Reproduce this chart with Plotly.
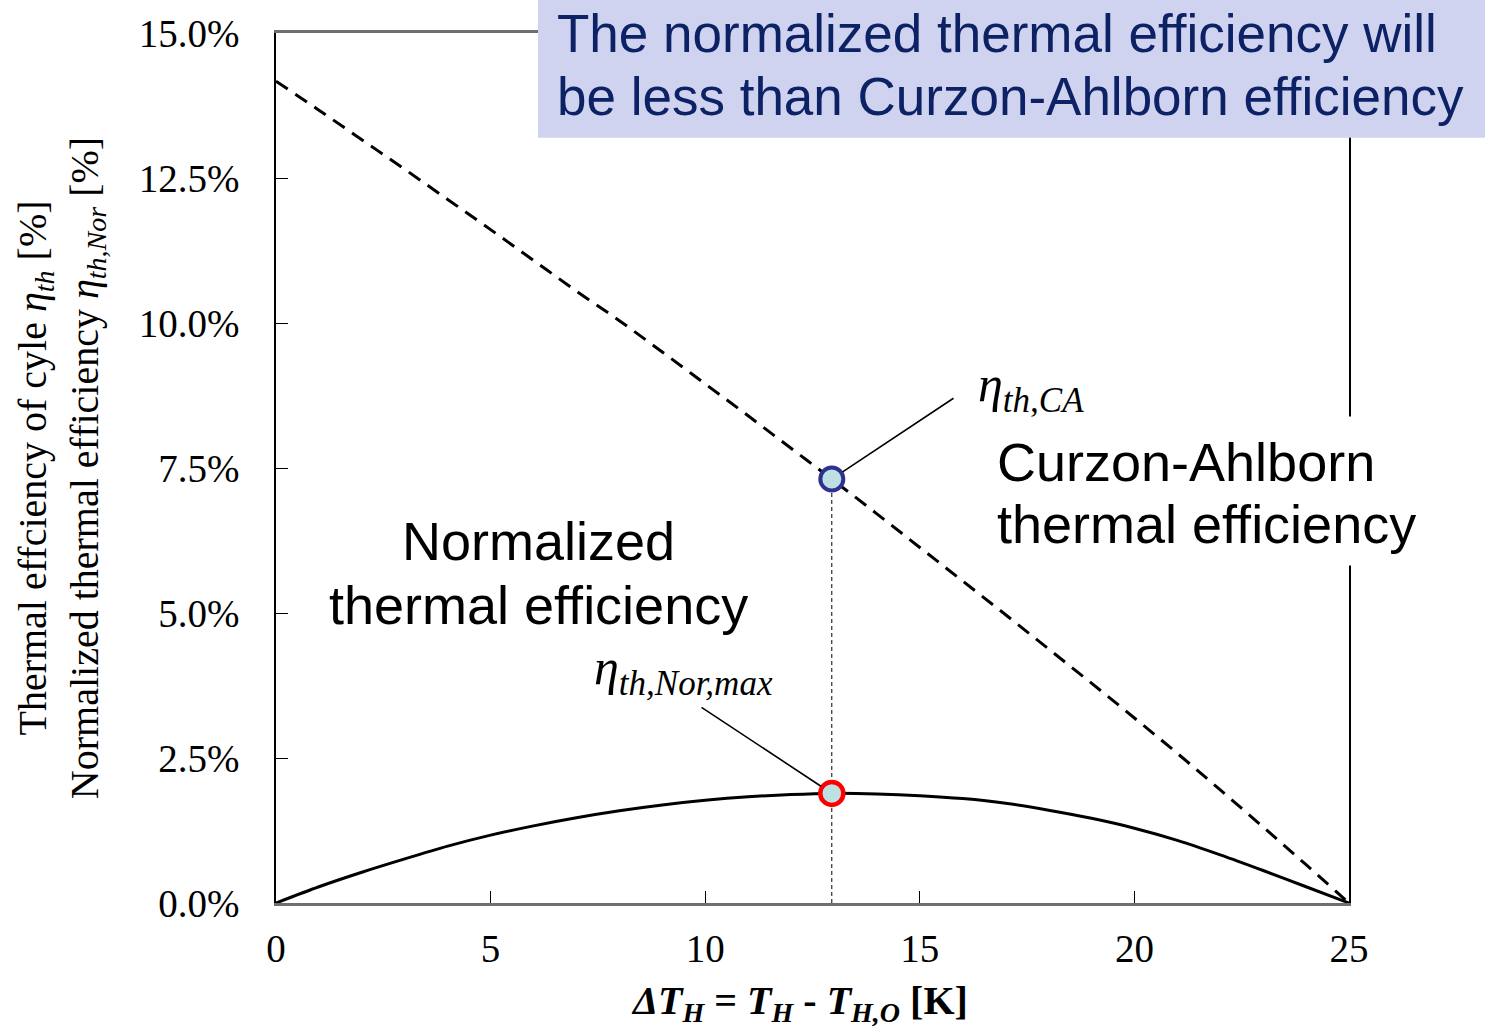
import plotly.graph_objects as go

# ---- data ----
delta_T = [0, 1, 2, 3, 4, 5, 6, 7, 8, 9, 10, 11, 12, 13, 14, 15, 16, 17, 18, 19, 20, 21, 22, 23, 24, 25]
eta_CA = [14.17, 13.67, 13.16, 12.65, 12.13, 11.61, 11.08, 10.55, 10.04, 9.50, 8.95, 8.40, 7.84,
          7.28, 6.71, 6.13, 5.55, 4.97, 4.38, 3.79, 3.19, 2.58, 1.95, 1.31, 0.66, 0.0]
eta_Nor = [0.0, 0.28, 0.53, 0.76, 0.98, 1.17, 1.33, 1.47, 1.59, 1.69, 1.77, 1.83, 1.87,
           1.89, 1.88, 1.85, 1.80, 1.72, 1.60, 1.46, 1.29, 1.08, 0.83, 0.56, 0.28, 0.0]
x_opt = 12.95
eta_CA_opt = 7.31
eta_Nor_max = 1.89
y_ticks = [0, 2.5, 5, 7.5, 10, 12.5, 15]
y_tick_labels = ["0.0%", "2.5%", "5.0%", "7.5%", "10.0%", "12.5%", "15.0%"]
x_ticks = [0, 5, 10, 15, 20, 25]

SERIF = "Liberation Serif, Times New Roman, serif"
SANS = "Liberation Sans, Arial, sans-serif"

fig = go.Figure()

# vertical dotted guide
fig.add_trace(go.Scatter(x=[x_opt, x_opt], y=[0, eta_CA_opt], mode="lines",
                         line=dict(color="black", width=1, dash="4px,3px"),
                         hoverinfo="skip", showlegend=False))
# Curzon-Ahlborn efficiency (dashed)
fig.add_trace(go.Scatter(x=delta_T, y=eta_CA, mode="lines",
                         line=dict(color="black", width=3, dash="14px,9px", shape="spline"),
                         showlegend=False))
# normalized thermal efficiency
fig.add_trace(go.Scatter(x=delta_T, y=eta_Nor, mode="lines",
                         line=dict(color="black", width=3, shape="spline", smoothing=0.8),
                         showlegend=False))
# markers
fig.add_trace(go.Scatter(x=[x_opt], y=[eta_CA_opt], mode="markers",
                         marker=dict(size=23, color="#bde0e3", line=dict(color="#2e3192", width=4)),
                         showlegend=False))
fig.add_trace(go.Scatter(x=[x_opt], y=[eta_Nor_max], mode="markers",
                         marker=dict(size=23, color="#bde0e3", line=dict(color="#ff0000", width=4.5)),
                         showlegend=False))


def px_x(p):
    return (p - 276) / 1073


def px_y(p):
    return (903 - p) / 873


annotations = [
    # leader lines
    dict(x=x_opt, y=eta_CA_opt, ax=15.82, ay=8.72, axref="x", ayref="y", xref="x", yref="y",
         text="", showarrow=True, arrowhead=0, arrowwidth=1.6, arrowcolor="black", standoff=13),
    dict(x=x_opt, y=eta_Nor_max, ax=9.88, ay=3.39, axref="x", ayref="y", xref="x", yref="y",
         text="", showarrow=True, arrowhead=0, arrowwidth=1.6, arrowcolor="black", standoff=13),
    # eta labels
    dict(x=px_x(976), y=px_y(386), xref="paper", yref="paper", xanchor="left", yanchor="middle",
         showarrow=False, text="<i>η</i><sub><i>th,CA</i></sub>",
         font=dict(family=SERIF, size=50, color="black")),
    dict(x=px_x(592), y=px_y(670), xref="paper", yref="paper", xanchor="left", yanchor="middle",
         showarrow=False, text="<i>η</i><sub><i>th,Nor,max</i></sub>",
         font=dict(family=SERIF, size=50, color="black")),
    # white backing behind the Curzon-Ahlborn label (hides the right frame line)
    dict(x=px_x(990), y=px_y(490), xref="paper", yref="paper", xanchor="left", yanchor="middle",
         showarrow=False, text="", bgcolor="white", width=430, height=148, borderpad=0),
    dict(x=px_x(995), y=px_y(460), xref="paper", yref="paper", xanchor="left", yanchor="middle",
         showarrow=False, text="Curzon-Ahlborn", font=dict(family=SANS, size=54, color="black")),
    dict(x=px_x(995), y=px_y(523), xref="paper", yref="paper", xanchor="left", yanchor="middle",
         showarrow=False, text="thermal efficiency", font=dict(family=SANS, size=54, color="black")),
    dict(x=px_x(538), y=px_y(540), xref="paper", yref="paper", xanchor="center", yanchor="middle",
         showarrow=False, text="Normalized", font=dict(family=SANS, size=54, color="black")),
    dict(x=px_x(538), y=px_y(604), xref="paper", yref="paper", xanchor="center", yanchor="middle",
         showarrow=False, text="thermal efficiency", font=dict(family=SANS, size=54, color="black")),
    # top box text
    dict(x=px_x(555), y=px_y(30), xref="paper", yref="paper", xanchor="left", yanchor="middle",
         showarrow=False, text="The normalized thermal efficiency will",
         font=dict(family=SANS, size=53, color="#0c2265")),
    dict(x=px_x(555), y=px_y(94), xref="paper", yref="paper", xanchor="left", yanchor="middle",
         showarrow=False, text="be less than Curzon-Ahlborn efficiency",
         font=dict(family=SANS, size=53, color="#0c2265")),
    # x-axis title
    dict(x=px_x(799), y=px_y(1003), xref="paper", yref="paper", xanchor="center", yanchor="middle",
         showarrow=False,
         text="<b><i>ΔT</i><sub><i>H</i></sub> = <i>T</i><sub><i>H</i></sub> - "
              "<i>T</i><sub><i>H,O</i></sub> [K]</b>",
         font=dict(family=SERIF, size=40, color="black")),
]

shapes = [
    dict(type="rect", xref="paper", yref="paper",
         x0=px_x(538), x1=px_x(1490), y0=px_y(135), y1=px_y(-5),
         fillcolor="#d0d3f0", line=dict(width=0), layer="above"),
]

fig.update_layout(
    width=1485, height=1028,
    margin=dict(l=276, r=136, t=30, b=125),
    paper_bgcolor="white", plot_bgcolor="white",
    annotations=annotations, shapes=shapes,
    xaxis=dict(range=[0, 25], tickvals=x_ticks, ticks="inside", ticklen=12, tickwidth=1.2,
               tickcolor="black", showline=True, linecolor="#6e6e6e", linewidth=2.5, mirror=True,
               showgrid=False, zeroline=False, ticklabelstandoff=9,
               tickfont=dict(family=SERIF, size=39, color="black")),
    yaxis=dict(range=[0, 15], tickvals=y_ticks, ticktext=y_tick_labels,
               ticks="inside", ticklen=12, tickwidth=1.2, tickcolor="black",
               showline=True, linecolor="black", linewidth=1.5, mirror=True,
               showgrid=False, zeroline=False, ticklabelstandoff=27,
               tickfont=dict(family=SERIF, size=39, color="black"),
               title=dict(text="Thermal effciency of cyle <i>η</i><sub><i>th</i></sub> [%]<br>"
                               "Normalized thermal efficiency <i>η</i><sub><i>th,Nor</i></sub> [%]",
                          font=dict(family=SERIF, size=40, color="black"), standoff=28)),
)

fig.write_html("out.html")
